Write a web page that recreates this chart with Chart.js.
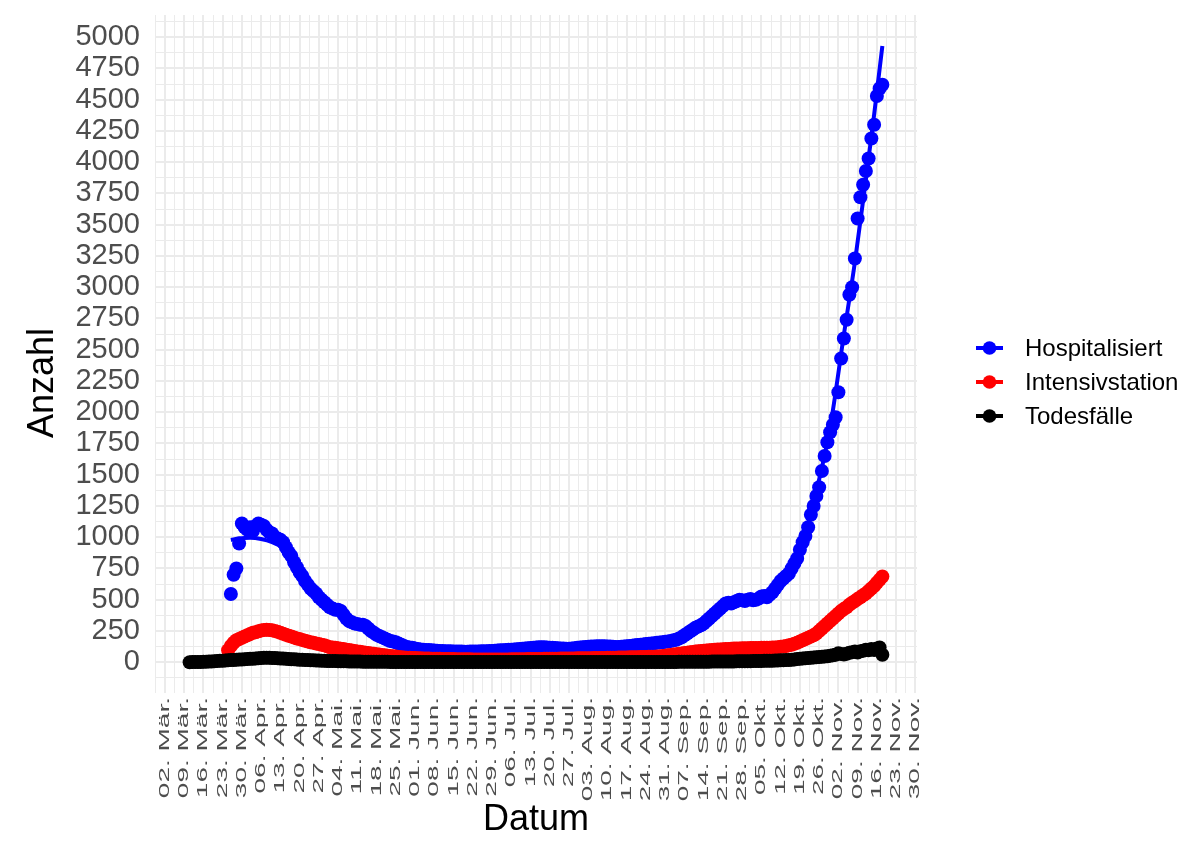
<!DOCTYPE html>
<html><head><meta charset="utf-8">
<script src="https://cdn.jsdelivr.net/npm/chart.js@4.4.1/dist/chart.umd.min.js"></script>
<style>html,body{margin:0;padding:0;background:#fff;} canvas{display:block;}</style>
</head><body>
<canvas id="c" width="1200" height="846" style="width:1200px;height:846px"></canvas>
<script>
// ---- data (x = day offset from 02. Mär.) ----
const seriesNames = ['Hospitalisiert', 'Intensivstation', 'Todesfälle'];
const seriesColors = ['#0000FF', '#FF0000', '#000000'];

const xTickLabels = ['02. Mär.','09. Mär.','16. Mär.','23. Mär.','30. Mär.','06. Apr.','13. Apr.','20. Apr.','27. Apr.',
  '04. Mai.','11. Mai.','18. Mai.','25. Mai.','01. Jun.','08. Jun.','15. Jun.','22. Jun.','29. Jun.',
  '06. Jul.','13. Jul.','20. Jul.','27. Jul.','03. Aug.','10. Aug.','17. Aug.','24. Aug.','31. Aug.',
  '07. Sep.','14. Sep.','21. Sep.','28. Sep.','05. Okt.','12. Okt.','19. Okt.','26. Okt.',
  '02. Nov.','09. Nov.','16. Nov.','23. Nov.','30. Nov.'];
const xTickDays = [0,7,14,21,28,35,42,49,56,63,70,77,84,91,98,105,112,119,126,133,140,147,154,161,168,175,182,189,196,203,210,217,224,231,238,245,252,259,266,273];

const yTickValues = [0,250,500,750,1000,1250,1500,1750,2000,2250,2500,2750,3000,3250,3500,3750,4000,4250,4500,4750,5000];
const yTickLabels = ['0','250','500','750','1000','1250','1500','1750','2000','2250','2500','2750','3000','3250','3500','3750','4000','4250','4500','4750','5000'];

const hospStartDay = 24;
const hospValues = [
  546,700,750,950,1110,1080,1060,1080,1050,1090,1110,1100,1090,1060,1040,1030,1000,990,980,960,
  920,880,850,800,760,720,690,650,620,590,570,550,520,500,480,460,440,430,420,420,
  410,380,350,330,320,310,305,300,300,290,270,250,235,220,210,200,190,180,170,165,
  160,150,140,130,122,118,115,110,105,102,100,98,97,95,93,92,90,90,88,88,
  87,86,86,85,85,84,84,85,85,86,86,87,88,88,90,90,92,93,95,96,
  98,100,100,102,104,105,107,110,112,114,116,118,120,120,120,118,116,115,114,112,
  110,110,108,108,110,112,115,118,120,122,124,125,126,127,128,128,127,126,125,124,
  122,122,124,126,128,130,132,135,138,140,142,145,148,150,152,155,158,160,163,166,
  170,175,180,190,200,215,230,245,260,275,285,295,310,330,350,370,390,410,430,450,
  470,475,470,480,490,500,495,490,500,505,495,500,510,525,530,520,540,560,
  590,620,650,670,690,710,750,790,830,
  900,960,1010,1080,1180,1250,1330,1400,1530,1650,1760,1840,1900,1960,2160,2430,2590,2740,2940,3000,
  3230,3550,3720,3820,3930,4030,4190,4300,4530,4590,4620];

const hospFitDays = [24,27,31,35,39,43,47,52,57,62,67,72,78,84,91,100,110,120,130,140,150,160,170,180,190,197,204,211,218,224,230,236,242,247,251,255,258,261];
const hospFitValues = [978,990,995,985,960,915,830,670,510,425,330,295,215,155,108,92,86,92,107,117,114,125,132,158,228,330,470,495,520,650,830,1280,1880,2620,3200,3860,4380,4930];

const icuStartDay = 23;
const icuValues = [
  95,130,155,175,185,195,205,215,225,235,240,248,253,257,260,258,255,250,243,235,
  228,220,212,205,198,190,185,178,172,166,160,155,150,145,140,135,128,120,
  118,115,112,108,105,100,97,93,90,86,83,80,76,73,70,67,64,61,58,55,
  52,50,47,45,42,40,38,36,35,34,33,32,31,30,30,29,28,28,27,27,
  26,26,25,25,25,24,24,24,23,23,23,22,22,22,22,21,21,21,21,21,
  21,21,22,22,22,23,23,23,24,24,24,25,25,25,26,26,26,27,27,27,
  28,28,28,29,29,29,30,30,30,31,31,31,32,32,32,33,33,33,34,34,
  35,35,36,36,37,37,38,38,39,39,40,40,41,42,42,43,44,44,45,46,
  50,52,55,58,61,64,67,70,73,76,79,82,85,88,90,92,94,96,98,100,
  101,102,104,105,106,108,109,110,110,111,112,112,113,113,114,114,115,115,116,116,
  117,118,120,123,126,130,135,140,148,155,165,175,
  185,195,205,215,230,250,270,290,310,330,350,370,390,410,425,440,460,475,490,505,
  520,535,550,570,590,610,635,660,685];

const deathStartDay = 9;
const deathValues = [
  0,1,1,2,2,3,4,5,6,8,9,11,12,14,15,17,18,20,21,22,
  24,25,27,28,30,32,34,35,36,35,34,33,32,30,29,27,26,24,23,21,
  20,19,18,17,16,15,14,13,12,11,10,10,9,9,8,8,7,7,6,6,
  5,5,5,4,4,4,4,3,3,3,3,3,3,2,2,2,2,2,2,2,2,2,2,2,1,1,1,1,1,1,1,1,
  1,1,1,1,1,1,1,1,1,1,1,1,1,1,1,1,1,1,1,1,
  1,1,1,1,1,1,1,1,1,1,2,1,1,1,1,1,1,1,1,1,
  1,1,1,1,1,1,1,1,1,1,1,1,1,1,1,1,1,1,1,1,
  1,1,1,1,1,2,1,1,1,1,2,1,1,1,2,1,1,2,1,2,
  2,2,2,2,2,2,3,3,3,3,3,3,3,4,4,4,4,4,5,5,5,5,5,6,6,6,6,7,7,7,8,8,8,9,9,10,10,11,11,12,
  12,13,14,15,16,17,18,20,22,25,28,30,32,34,36,38,40,42,44,46,
  48,52,55,60,72,65,62,68,75,80,85,78,88,92,100,95,105,98,110,118,60];

// ---- helpers / styling ----
const FONT = '"Liberation Sans", Arial, Helvetica, sans-serif';
function toXY(start, vals) { return vals.map((v, i) => ({ x: start + i, y: v })); }
const xGridDays = []; for (let d = -3.5; d <= 273.6; d += 3.5) xGridDays.push(d);
const yGridValues = []; for (let v = -125; v <= 5177; v += 125) yGridValues.push(v);

const extras = {
  id: 'extras',
  afterDraw(chart) {
    const ctx = chart.ctx, xs = chart.scales.x, area = chart.chartArea;
    ctx.save();
    // x tick labels (rotated, condensed)
    ctx.fillStyle = '#4D4D4D';
    ctx.font = '28px ' + FONT;
    ctx.textAlign = 'right';
    ctx.textBaseline = 'middle';
    xTickLabels.forEach((lab, i) => {
      const px = xs.getPixelForValue(xTickDays[i]);
      ctx.save();
      ctx.translate(px, area.bottom + 4);
      ctx.rotate(-Math.PI / 2);
      ctx.scale(1, 0.52);
      ctx.fillText(lab, 0, 0);
      ctx.restore();
    });
    // y axis title
    ctx.save();
    ctx.fillStyle = '#000';
    ctx.font = '36px ' + FONT;
    ctx.textAlign = 'center';
    ctx.textBaseline = 'middle';
    ctx.translate(43, 383);
    ctx.rotate(-Math.PI / 2);
    ctx.fillText('Anzahl', 0, 0);
    ctx.restore();
    // legend
    const rows = [348, 382, 416];
    seriesNames.forEach((name, i) => {
      const y = rows[i];
      ctx.strokeStyle = seriesColors[i];
      ctx.lineWidth = 4;
      ctx.beginPath(); ctx.moveTo(976, y); ctx.lineTo(1003, y); ctx.stroke();
      ctx.fillStyle = seriesColors[i];
      ctx.beginPath(); ctx.arc(989.5, y, 6.8, 0, Math.PI * 2); ctx.fill();
      ctx.fillStyle = '#000';
      ctx.font = '24px ' + FONT;
      ctx.textAlign = 'left';
      ctx.textBaseline = 'middle';
      ctx.fillText(name, 1025, y + 1);
    });
    ctx.restore();
  }
};

const gridLW = c => (c.tick && Math.abs(c.tick.value % (c.scale.axis === 'x' ? 7 : 250)) < 1e-6) ? 2 : 1;

new Chart(document.getElementById('c'), {
  type: 'scatter',
  data: {
    datasets: [
      { label: seriesNames[2], data: toXY(deathStartDay, deathValues), backgroundColor: seriesColors[2], pointRadius: 7, pointBorderWidth: 0, showLine: false },
      { label: seriesNames[1], data: toXY(icuStartDay, icuValues), backgroundColor: seriesColors[1], pointRadius: 7, pointBorderWidth: 0, showLine: false },
      { label: seriesNames[0] + ' (Trend)', type: 'line', data: hospFitDays.map((d, i) => ({ x: d, y: hospFitValues[i] })),
        borderColor: seriesColors[0], borderWidth: 4, pointRadius: 0, fill: false, cubicInterpolationMode: 'monotone' },
      { label: seriesNames[0], data: toXY(hospStartDay, hospValues), backgroundColor: seriesColors[0], pointRadius: 7, pointBorderWidth: 0, showLine: false }
    ]
  },
  options: {
    responsive: false, animation: false, devicePixelRatio: 1,
    layout: { padding: { left: 0, right: 283, top: 15, bottom: 0 } },
    plugins: { legend: { display: false }, tooltip: { enabled: false } },
    scales: {
      x: {
        type: 'linear', min: -3.6, max: 273.6,
        afterBuildTicks: s => { s.ticks = xGridDays.map(v => ({ value: v })); },
        afterFit: s => { s.height = 153; s.paddingLeft = 0; s.paddingRight = 0; },
        ticks: { display: false, autoSkip: false },
        grid: { color: '#EBEBEB', lineWidth: gridLW, drawTicks: false },
        border: { display: false },
        title: { display: true, text: 'Datum', color: '#000', font: { size: 36, family: FONT }, padding: { top: 0, bottom: 4 } }
      },
      y: {
        type: 'linear', min: -246.5, max: 5177.5,
        afterBuildTicks: s => { s.ticks = yGridValues.map(v => ({ value: v })); },
        afterFit: s => { s.width = 155; s.paddingTop = 0; s.paddingBottom = 0; },
        ticks: {
          autoSkip: false, padding: 15, color: '#4D4D4D', font: { size: 29, family: FONT },
          callback: v => { const k = yTickValues.indexOf(v); return k >= 0 ? yTickLabels[k] : ''; }
        },
        grid: { color: '#EBEBEB', lineWidth: gridLW, drawTicks: false },
        border: { display: false }
      }
    }
  },
  plugins: [extras]
});
</script>
</body></html>
